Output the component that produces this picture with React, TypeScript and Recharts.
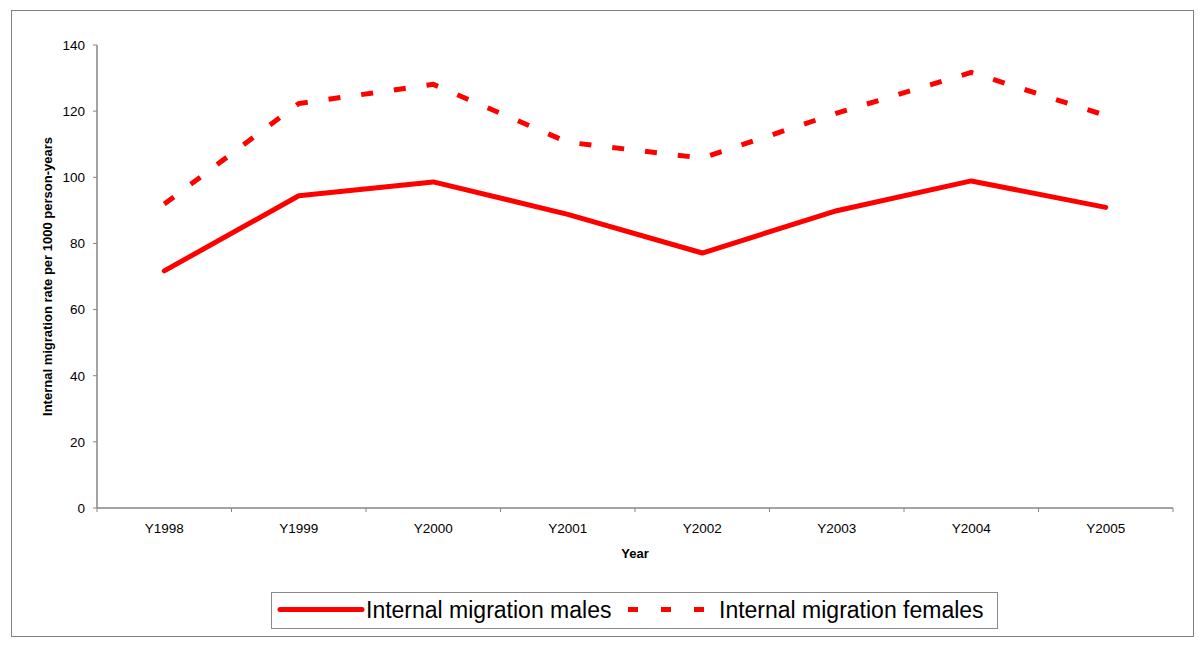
import React from "react"
import { Line, LineChart, XAxis, YAxis } from "recharts"

const years = ["Y1998", "Y1999", "Y2000", "Y2001", "Y2002", "Y2003", "Y2004", "Y2005"]
const males = [71.7, 94.4, 98.6, 88.8, 77.1, 89.9, 98.9, 90.9]
const females = [91.9, 122.3, 128.1, 110.6, 105.8, 119.4, 131.7, 118.7]
const yTicks = [0, 20, 40, 60, 80, 100, 120, 140]

const data = years.map((year, i) => ({ year, males: males[i], females: females[i] }))

const FONT = "Liberation Sans, Arial, sans-serif"
const AXIS = "#868686"
const RED = "#ff0000"

const W = 1200
const H = 655
const margin = { top: 45, right: 27, bottom: 117, left: 47 }
const yAxisWidth = 50
const plotWidth = W - margin.left - margin.right - yAxisWidth
const band = plotWidth / years.length

function YearTick(props: any) {
  const { x, y, payload, index } = props
  const left = x - band / 2
  const right = x + band / 2
  return (
    <g>
      <line x1={left} y1={y} x2={left} y2={y + 4} stroke={AXIS} />
      {index === years.length - 1 && <line x1={right} y1={y} x2={right} y2={y + 4} stroke={AXIS} />}
      <text x={x} y={y + 25} textAnchor="middle" fontSize={13.5} fontFamily={FONT} fill="#000">
        {payload.value}
      </text>
    </g>
  )
}

function YLabel(props: any) {
  const { viewBox } = props
  const cx = viewBox.x
  const cy = viewBox.y + viewBox.height / 2
  return (
    <text
      x={cx}
      y={cy}
      transform={`rotate(-90 ${cx} ${cy})`}
      textAnchor="middle"
      dominantBaseline="central"
      fontSize={13}
      fontWeight="bold"
      fontFamily={FONT}
      fill="#000"
    >
      Internal migration rate per 1000 person-years
    </text>
  )
}

function XLabel(props: any) {
  const { viewBox } = props
  return (
    <text
      x={viewBox.x + viewBox.width / 2}
      y={viewBox.y + 50}
      textAnchor="middle"
      fontSize={13}
      fontWeight="bold"
      fontFamily={FONT}
      fill="#000"
    >
      Year
    </text>
  )
}

const legendText: React.CSSProperties = {
  position: "absolute",
  top: 0,
  height: 35,
  lineHeight: "35px",
  fontSize: 23,
}

export default function App() {
  return (
    <div style={{ position: "absolute", left: 0, top: 0, width: W, height: H, background: "#fff" }}>
      <div
        style={{
          position: "absolute",
          left: 11,
          top: 10,
          width: 1183,
          height: 627,
          border: "1px solid #808080",
          boxSizing: "border-box",
        }}
      />
      <div style={{ position: "absolute", left: 0, top: 0 }}>
        <LineChart width={W} height={H} data={data} margin={margin}>
          <XAxis
            dataKey="year"
            padding={{ left: band / 2, right: band / 2 }}
            axisLine={{ stroke: AXIS, strokeWidth: 1.5 }}
            tickLine={false}
            tickSize={0}
            tickMargin={0}
            height={30}
            interval={0}
            tick={<YearTick />}
            label={<XLabel />}
          />
          <XAxis
            xAxisId="top"
            dataKey="year"
            orientation="top"
            height={0}
            tick={false}
            tickLine={false}
            axisLine={{ stroke: "#a0a0a0" }}
          />
          <YAxis
            domain={[0, 140]}
            ticks={yTicks}
            width={yAxisWidth}
            axisLine={{ stroke: AXIS, strokeWidth: 1.5 }}
            tickLine={{ stroke: AXIS }}
            tickSize={4}
            tickMargin={8}
            tick={{ fontSize: 13.5, fontFamily: FONT, fill: "#000" }}
            label={<YLabel />}
          />
          <YAxis
            yAxisId="right"
            orientation="right"
            width={0}
            domain={[0, 140]}
            tick={false}
            tickLine={false}
            axisLine={{ stroke: "#a0a0a0" }}
          />
          <Line
            type="linear"
            dataKey="males"
            stroke={RED}
            strokeWidth={5}
            strokeLinecap="round"
            strokeLinejoin="round"
            dot={false}
            isAnimationActive={false}
          />
          <Line
            type="linear"
            dataKey="females"
            stroke={RED}
            strokeWidth={5}
            strokeDasharray="12 21"
            dot={false}
            isAnimationActive={false}
          />
        </LineChart>
      </div>
      <div
        style={{
          position: "absolute",
          left: 271,
          top: 592,
          width: 727,
          height: 37,
          border: "1px solid #8a8a8a",
          boxSizing: "border-box",
          fontFamily: FONT,
          color: "#000",
          whiteSpace: "nowrap",
        }}
      >
        <svg width={92} height={35} style={{ position: "absolute", left: 2, top: 0 }}>
          <line x1={6} y1={16.5} x2={88} y2={16.5} stroke={RED} strokeWidth={5} strokeLinecap="round" />
        </svg>
        <span style={{ ...legendText, left: 94 }}>Internal migration males</span>
        <svg width={80} height={35} style={{ position: "absolute", left: 356, top: 0 }}>
          <line x1={0} y1={16.5} x2={77} y2={16.5} stroke={RED} strokeWidth={5} strokeDasharray="10 23" />
        </svg>
        <span style={{ ...legendText, left: 447 }}>Internal migration females</span>
      </div>
    </div>
  )
}
